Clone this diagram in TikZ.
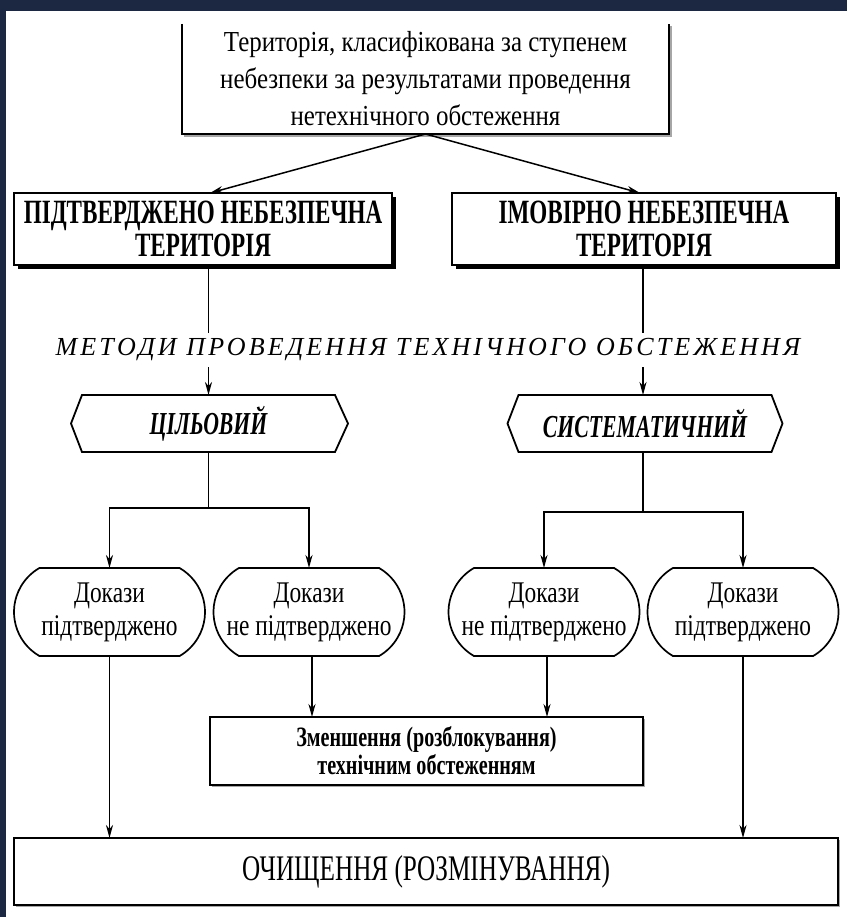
\documentclass[tikz,border=0pt]{standalone}
\usepackage{fontspec}
\setmainfont{Liberation Serif}
\newfontfamily\fTopT[FakeStretch=0.86]{Liberation Serif}
\newfontfamily\fBoldCond[FakeStretch=0.68]{Liberation Serif}
\newfontfamily\fHex[FakeStretch=0.68]{Liberation Serif}
\newfontfamily\fStad[FakeStretch=0.78]{Liberation Serif}
\newfontfamily\fMid[FakeStretch=0.72]{Liberation Serif}
\newfontfamily\fBot[FakeStretch=0.7]{Liberation Serif}
\newfontfamily\fMeth[LetterSpace=12]{Liberation Serif}
\usetikzlibrary{arrows.meta,shapes.misc,shadows}
\definecolor{navyband}{RGB}{28,40,66}
\begin{document}
\begin{tikzpicture}[x=1pt,y=-1pt,
  every node/.style={inner sep=0pt, outer sep=0pt, align=center},
  bline/.style={line width=1.8pt},
  cline/.style={line width=1.6pt},
  arr/.style={line width=1.5pt, -{Stealth[length=13pt,width=7pt,inset=4pt]}},
  bigbox/.style={draw, line width=1.8pt, fill=white, minimum height=72,
    general shadow={fill=black, shadow xshift=4pt, shadow yshift=-4pt},
    font=\fBoldCond\bfseries\fontsize{34}{33}\selectfont},
  hexbox/.style={minimum width=253, minimum height=57,
    font=\fHex\bfseries\itshape\fontsize{32}{32}\selectfont},
  stad/.style={draw, line width=1.7pt, rounded rectangle, rounded rectangle arc length=120,
    minimum width=191, minimum height=88, font=\fStad\fontsize{30}{33}\selectfont},
  midbox/.style={draw, line width=1.7pt, fill=white, minimum width=433, minimum height=68,
    general shadow={fill=gray!70, shadow xshift=2pt, shadow yshift=-2pt},
    font=\fMid\bfseries\fontsize{28}{28}\selectfont},
  botbox/.style={draw, line width=1.7pt, fill=white, minimum width=824, minimum height=67,
    general shadow={fill=gray!70, shadow xshift=2pt, shadow yshift=-2pt},
    font=\fBot\fontsize{36}{36}\selectfont}
]
\fill[navyband] (0,0) rectangle (847,917);
\fill[white] (6,11) rectangle (847,917);
\useasboundingbox (0,0) rectangle (847,917);

% top box (top edge not shown)
\node[minimum width=487, minimum height=110, font=\fTopT\fontsize{29}{37}\selectfont] (top) at (425.5,79)
  {Територія, класифікована за ступенем\\небезпеки за результатами проведення\\нетехнічного обстеження};
\draw[gray!70, line width=1.8pt] ([shift={(2,2)}]top.north east) -- ([shift={(2,2)}]top.south east) -- ([shift={(2,2)}]top.south west);
\draw[bline] (top.north west) -- (top.south west) -- (top.south east) -- (top.north east);

% big boxes
\node[bigbox, minimum width=378] (lbox) at (203,229) {ПІДТВЕРДЖЕНО НЕБЕЗПЕЧНА\\ТЕРИТОРІЯ};
\node[bigbox, minimum width=384] (rbox) at (644,229) {ІМОВІРНО НЕБЕЗПЕЧНА\\ТЕРИТОРІЯ};

\draw[arr] (top.south) -- ([xshift=7]lbox.north);
\draw[arr] (top.south) -- ([xshift=-4]rbox.north);

% methods label
\node[font=\fMeth\itshape\fontsize{26}{30}\selectfont, minimum height=34] (meth) at (428,350)
  {МЕТОДИ ПРОВЕДЕННЯ ТЕХНІЧНОГО ОБСТЕЖЕННЯ};

% hexagons
\node[hexbox] (hexL) at (208.5,423.5) {ЦІЛЬОВИЙ};
\node[hexbox] (hexR) at (645,423.5) {СИСТЕМАТИЧНИЙ};
\draw[bline] (hexL.north west) -- (hexL.north east) -- ([xshift=13]hexL.east) -- (hexL.south east)
  -- (hexL.south west) -- ([xshift=-11]hexL.west) -- cycle;
\draw[bline] (hexR.north west) -- (hexR.north east) -- ([xshift=11]hexR.east) -- (hexR.south east)
  -- (hexR.south west) -- ([xshift=-11]hexR.west) -- cycle;

\draw[cline] (lbox.south -| hexL.north) -- (hexL.north |- meth.north);
\draw[arr] (hexL.north |- meth.south) -- (hexL.north);
\draw[cline] ([xshift=-2]rbox.south -| hexR.north) -- ([xshift=-2]hexR.north |- meth.north);
\draw[arr] ([xshift=-2]hexR.north |- meth.south) -- ([xshift=-2]hexR.north);

% stadium nodes
\node[stad] (s1) at (109.5,612) {Докази\\підтверджено};
\node[stad] (s2) at (309,612) {Докази\\не підтверджено};
\node[stad] (s3) at (544,612) {Докази\\не підтверджено};
\node[stad] (s4) at (743,612) {Докази\\підтверджено};

\draw[cline] (hexL.south) -- ++(0,56) coordinate (bl);
\draw[arr] (bl) -| (s1.north);
\draw[arr] (bl) -| (s2.north);
\draw[cline] ([xshift=-2]hexR.south) -- ++(0,60) coordinate (br);
\draw[arr] (br) -| (s3.north);
\draw[arr] (br) -| (s4.north);

% middle and bottom boxes
\node[midbox] (mid) at (426.5,751) {Зменшення (розблокування)\\технічним обстеженням};
\node[botbox] (bot) at (426,871.5) {ОЧИЩЕННЯ (РОЗМІНУВАННЯ)};

\draw[arr] (s1.south) -- (s1.south |- bot.north);
\draw[arr] ([xshift=3]s2.south) -- ([xshift=3]s2.south |- mid.north);
\draw[arr] ([xshift=3]s3.south) -- ([xshift=3]s3.south |- mid.north);
\draw[arr] (s4.south) -- (s4.south |- bot.north);
\end{tikzpicture}
\end{document}
